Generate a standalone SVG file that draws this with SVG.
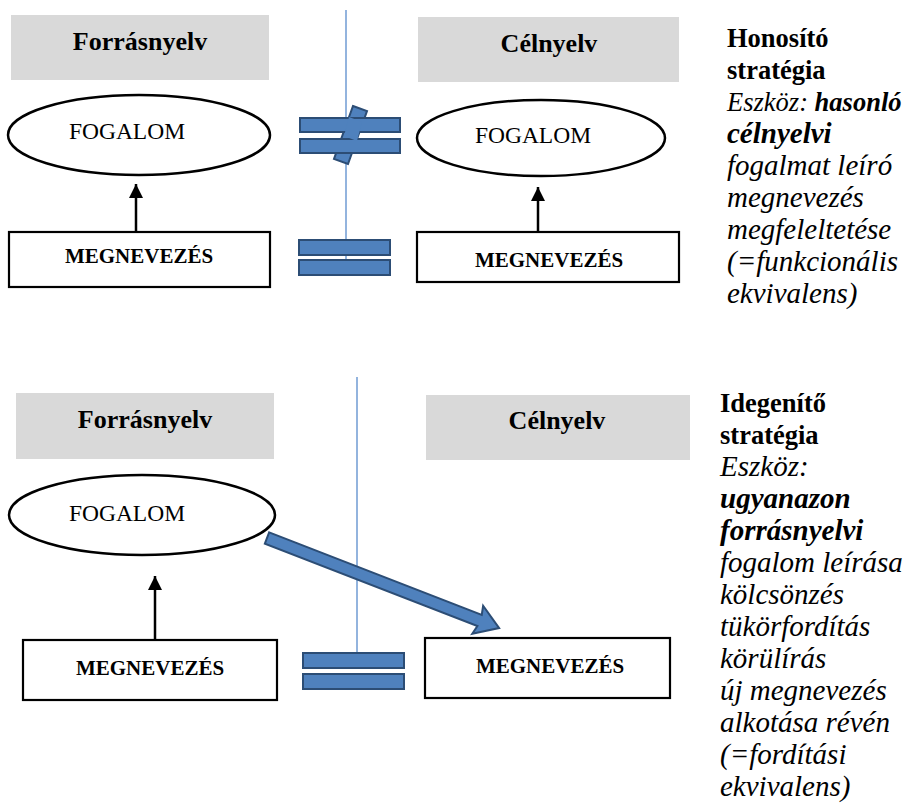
<svg xmlns="http://www.w3.org/2000/svg" width="903" height="808" viewBox="0 0 903 808">
<defs>
<style>
.hdr{fill:#D9D9D9;stroke:none}
.hdrt{font-family:"Liberation Serif","Times New Roman",serif;font-weight:bold;font-size:26px;fill:#000;text-anchor:middle}
.ell{fill:#fff;stroke:#000;stroke-width:2.5}
.ellt{font-family:"Liberation Serif","Times New Roman",serif;font-size:23.5px;fill:#000;text-anchor:middle}
.box{fill:#fff;stroke:#000;stroke-width:2.2}
.boxt{font-family:"Liberation Serif","Times New Roman",serif;font-weight:bold;font-size:21px;fill:#000;text-anchor:middle}
.sep{stroke:#6F9BD3;stroke-width:1.5;fill:none}
.eq{fill:#4F81BD;stroke:#2C4D75;stroke-width:2}
.conn{stroke:#000;stroke-width:2.5;fill:none}
.side{font-family:"Liberation Serif","Times New Roman",serif;font-size:26.5px;fill:#000}
.b{font-weight:bold}
.i{font-style:italic;font-size:29px}
</style>
<marker id="ah" viewBox="0 0 10 10" refX="10" refY="5" markerWidth="5.6" markerHeight="5.6" markerUnits="strokeWidth" orient="auto">
<path d="M0,0 L10,5 L0,10 Z" fill="#000"/>
</marker>
</defs>

<!-- separators -->
<line class="sep" x1="346" y1="10" x2="346" y2="260"/>
<line class="sep" x1="357" y1="377" x2="357" y2="653"/>

<!-- top section -->
<g id="top-source-header"><rect class="hdr" x="11" y="15" width="258" height="65"/><text class="hdrt" x="140" y="50">Forrásnyelv</text></g>
<g id="top-target-header"><rect class="hdr" x="418" y="17" width="261" height="65"/><text class="hdrt" x="549" y="52">Célnyelv</text></g>
<g id="top-source-concept"><ellipse class="ell" cx="139" cy="135" rx="131" ry="40"/><text class="ellt" x="127" y="139">FOGALOM</text></g>
<g id="top-target-concept"><ellipse class="ell" cx="541" cy="138" rx="124" ry="38"/><text class="ellt" x="533" y="143">FOGALOM</text></g>
<g id="top-source-name"><rect class="box" x="9" y="232" width="261" height="55"/><text class="boxt" x="139" y="263">MEGNEVEZÉS</text></g>
<g id="top-target-name"><rect class="box" x="417" y="232" width="262" height="50"/><text class="boxt" x="549" y="267">MEGNEVEZÉS</text></g>
<g id="not-equal">
<polygon class="eq" points="353,106 367,111 348,164 334,159"/>
<rect class="eq" x="300" y="118" width="100" height="14"/>
<rect class="eq" x="300" y="139" width="100" height="14"/>
<polygon fill="#4F81BD" points="349,117 362,122 357,141 344,136"/>
</g>
<g id="top-equal">
<rect class="eq" x="299" y="240" width="91" height="15"/>
<rect class="eq" x="299" y="260" width="91" height="15"/>
</g>
<g id="top-strategy">
<text class="side b" x="727" y="47">Honosító</text>
<text class="side b" x="727" y="79">stratégia</text>
<text class="side" font-style="italic" font-size="26.5" x="727" y="111">Eszköz: <tspan class="b">hasonló</tspan></text>
<text class="side i b" x="727" y="143">célnyelvi</text>
<text class="side i" x="727" y="175">fogalmat leíró</text>
<text class="side i" x="727" y="207">megnevezés</text>
<text class="side i" x="727" y="239">megfeleltetése</text>
<text class="side i" x="727" y="271">(=funkcionális</text>
<text class="side i" x="727" y="303">ekvivalens)</text>
</g>

<!-- bottom section -->
<g id="bottom-source-header"><rect class="hdr" x="16" y="393" width="258" height="66"/><text class="hdrt" x="145" y="428">Forrásnyelv</text></g>
<g id="bottom-target-header"><rect class="hdr" x="426" y="395" width="264" height="65"/><text class="hdrt" x="557" y="429">Célnyelv</text></g>
<g id="bottom-source-concept"><ellipse class="ell" cx="142" cy="515" rx="133" ry="40"/><text class="ellt" x="127" y="521">FOGALOM</text></g>
<g id="bottom-source-name"><rect class="box" x="23" y="640" width="254" height="60"/><text class="boxt" x="150" y="675">MEGNEVEZÉS</text></g>
<g id="bottom-target-name"><rect class="box" x="425" y="638" width="245" height="60"/><text class="boxt" x="550" y="673">MEGNEVEZÉS</text></g>
<g id="bottom-equal">
<rect class="eq" x="303" y="653" width="101" height="15"/>
<rect class="eq" x="303" y="674" width="101" height="15"/>
</g>
<g id="bottom-strategy">
<text class="side b" x="720" y="412">Idegenítő</text>
<text class="side b" x="720" y="444">stratégia</text>
<text class="side i" x="720" y="476">Eszköz:</text>
<text class="side i b" x="720" y="508">ugyanazon</text>
<text class="side i b" x="720" y="540">forrásnyelvi</text>
<text class="side i" x="720" y="572">fogalom leírása</text>
<text class="side i" x="720" y="604">kölcsönzés</text>
<text class="side i" x="720" y="636">tükörfordítás</text>
<text class="side i" x="720" y="668">körülírás</text>
<text class="side i" x="720" y="700">új megnevezés</text>
<text class="side i" x="720" y="732">alkotása révén</text>
<text class="side i" x="720" y="764">(=fordítási</text>
<text class="side i" x="720" y="796">ekvivalens)</text>
</g>

<!-- connectors -->
<g id="connectors">
<line class="conn" x1="136" y1="232" x2="136" y2="184" marker-end="url(#ah)"/>
<line class="conn" x1="538" y1="232" x2="538" y2="187" marker-end="url(#ah)"/>
<line class="conn" x1="155" y1="640" x2="155" y2="576" marker-end="url(#ah)"/>
<g transform="translate(267,538) rotate(21.2)">
<polygon class="eq" points="0,-6 228,-6 226,-15 249,0 226,15 228,6 0,6"/>
</g>
</g>
</svg>
